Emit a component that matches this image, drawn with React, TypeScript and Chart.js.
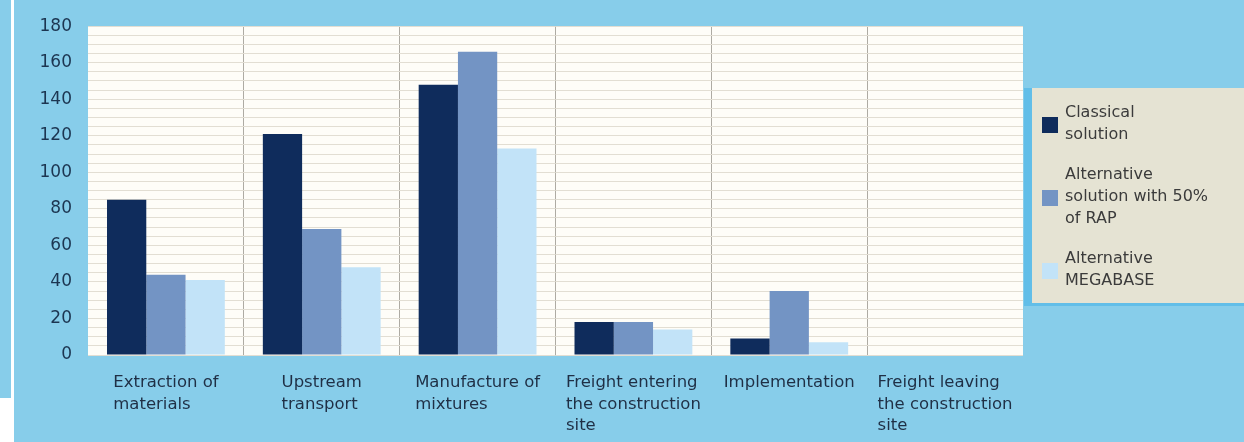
import React, { useEffect, useRef } from "react";
import { Chart, registerables } from "chart.js";

Chart.register(...registerables);

const categories: string[][] = [
  ["Extraction of", "materials"],
  ["Upstream", "transport"],
  ["Manufacture of", "mixtures"],
  ["Freight entering", "the construction", "site"],
  ["Implementation"],
  ["Freight leaving", "the construction", "site"],
];

const seriesNames: string[][] = [
  ["Classical", "solution"],
  ["Alternative", "solution with 50%", "of RAP"],
  ["Alternative", "MEGABASE"],
];

const classical = [85, 121, 148, 18, 9, 0];
const rap50 = [44, 69, 166, 18, 35, 0];
const megabase = [41, 48, 113, 14, 7, 0];

const seriesColors = ["#0f2c5c", "#7394c4", "#c2e3f8"];

const yMin = 0;
const yMax = 180;
const yGridStep = 5;
const yLabelStep = 20;

const BG = "#87cdea";
const FONT = "'DejaVu Sans', Verdana, sans-serif";

const decorPlugin = {
  id: "decor",
  beforeDraw(chart: any) {
    const { ctx, width, height, chartArea } = chart;
    ctx.save();
    ctx.fillStyle = BG;
    ctx.fillRect(0, 0, width, height);
    ctx.fillStyle = "#ffffff";
    ctx.fillRect(11, 0, 3, height);
    ctx.fillRect(0, 398, 14, height - 398);
    ctx.fillStyle = "#fefdf8";
    ctx.fillRect(chartArea.left, chartArea.top, chartArea.right - chartArea.left, chartArea.bottom - chartArea.top);
    ctx.restore();
  },
  afterDraw(chart: any) {
    const { ctx } = chart;
    const xScale = chart.scales.x;
    ctx.save();
    // category labels: block centered, lines left aligned
    ctx.font = `16.5px ${FONT}`;
    ctx.fillStyle = "#1f2f45";
    ctx.textBaseline = "middle";
    ctx.textAlign = "left";
    categories.forEach((lines, i) => {
      const w = Math.max(...lines.map((l) => ctx.measureText(l).width));
      const x0 = xScale.getPixelForValue(i) - w / 2;
      lines.forEach((l, j) => ctx.fillText(l, x0, 383 + j * 21.5));
    });
    // legend box
    const bx = 1032, by = 88, bw = 1244 - 1032, bh = 215;
    ctx.fillStyle = "#e5e3d3";
    ctx.fillRect(bx, by, bw, bh);
    ctx.fillStyle = "#62bee8";
    ctx.fillRect(1024, by, 8, bh + 3);
    ctx.fillRect(1024, by + bh, bw + 8, 3);
    ctx.font = `16px ${FONT}`;
    ctx.fillStyle = "#3b3b3b";
    const lh = 22;
    let y = 113;
    chart.data.datasets.forEach((ds: any, i: number) => {
      const lines: string[] = seriesNames[i];
      const center = y + ((lines.length - 1) * lh) / 2 + 1;
      ctx.fillStyle = ds.backgroundColor;
      ctx.fillRect(1042, center - 8, 16, 16);
      ctx.fillStyle = "#3b3b3b";
      lines.forEach((l, j) => ctx.fillText(l, 1065, y + j * lh));
      y += lines.length * lh + 18;
    });
    ctx.restore();
  },
};

export default function App() {
  const ref = useRef<HTMLCanvasElement | null>(null);
  useEffect(() => {
    if (!ref.current) return;
    const chart = new Chart(ref.current, {
      type: "bar",
      data: {
        labels: categories.map((c) => c.join(" ")),
        datasets: [
          { label: seriesNames[0].join(" "), data: classical, backgroundColor: seriesColors[0] },
          { label: seriesNames[1].join(" "), data: rap50, backgroundColor: seriesColors[1] },
          { label: seriesNames[2].join(" "), data: megabase, backgroundColor: seriesColors[2] },
        ],
      },
      options: {
        animation: false,
        responsive: false,
        maintainAspectRatio: false,
        layout: { padding: { left: 0, right: 221, top: 24, bottom: 0 } },
        datasets: { bar: { categoryPercentage: 0.756, barPercentage: 1.0, borderWidth: 0 } },
        plugins: { legend: { display: false }, tooltip: { enabled: false }, title: { display: false } },
        scales: {
          x: {
            offset: true,
            border: { display: false },
            grid: {
              offset: true,
              drawTicks: false,
              lineWidth: 1,
              color: (c: any) =>
                c.index === 0 || c.index === undefined ? "rgba(0,0,0,0)" : "#aeaba3",
            },
            ticks: { display: false },
            afterFit: (s: any) => {
              s.height = 87;
            },
          },
          y: {
            min: yMin,
            max: yMax,
            border: { display: false },
            grid: { drawTicks: false, color: "#e2ded3", lineWidth: 1 },
            ticks: {
              stepSize: yGridStep,
              autoSkip: false,
              padding: 16,
              color: "#1c3551",
              font: { family: FONT, size: 17 },
              callback: (v: any) => (Number(v) % yLabelStep === 0 ? String(v) : ""),
            },
            afterFit: (s: any) => {
              s.width = 88;
            },
          },
        },
      },
      plugins: [decorPlugin],
    });
    return () => chart.destroy();
  }, []);
  return (
    <div style={{ position: "absolute", left: 0, top: 0, width: 1244, height: 442 }}>
      <canvas ref={ref} width={1244} height={442} style={{ display: "block", width: 1244, height: 442 }} />
    </div>
  );
}
